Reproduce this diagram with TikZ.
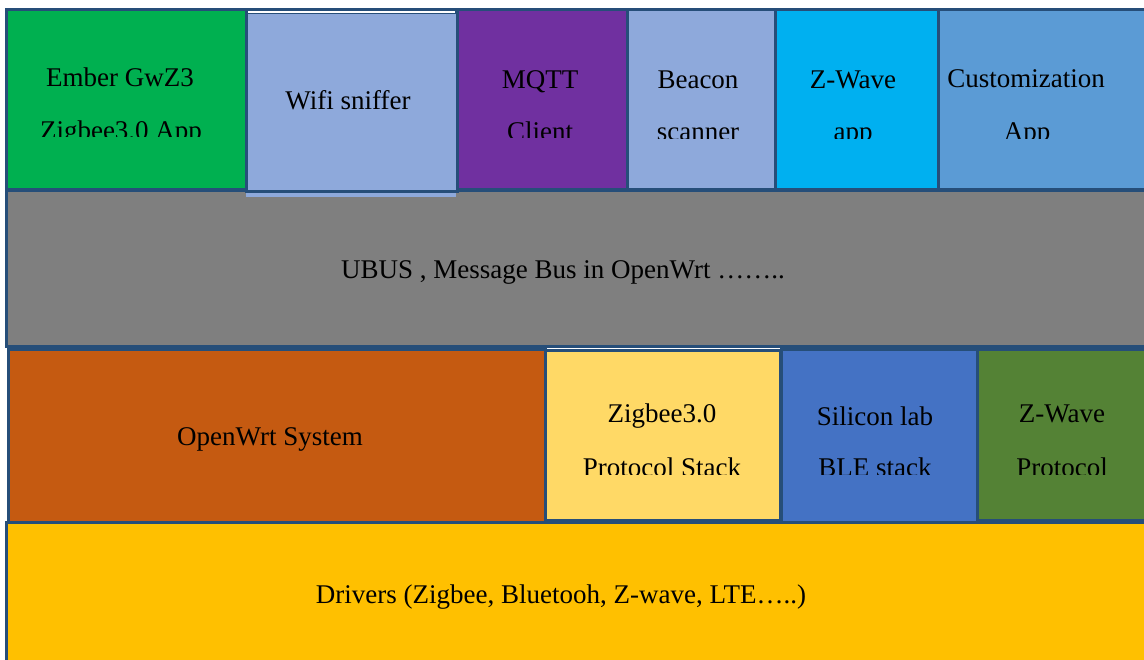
\documentclass[tikz,border=0pt]{standalone}
\usepackage{fontspec}
\setmainfont{Liberation Serif}
\definecolor{bd}{RGB}{38,78,121}
\definecolor{cgreen}{RGB}{0,176,80}
\definecolor{clblue}{RGB}{142,169,219}
\definecolor{cpurple}{RGB}{112,48,160}
\definecolor{ccyan}{RGB}{0,176,240}
\definecolor{cmblue}{RGB}{91,155,213}
\definecolor{cgray}{RGB}{127,127,127}
\definecolor{corange}{RGB}{197,90,17}
\definecolor{cyellow}{RGB}{255,217,102}
\definecolor{cblue}{RGB}{68,114,196}
\definecolor{cdgreen}{RGB}{84,130,53}
\definecolor{cgold}{RGB}{255,192,0}
\begin{document}
\begin{tikzpicture}[x=1pt,y=-1pt,
  box/.style={draw=bd,line width=3pt,inner sep=0pt,outer sep=0pt,anchor=north west},
  lbl/.style={anchor=base,inner sep=0pt,font=\fontsize{27}{32}\selectfont,text=black}]
\useasboundingbox[fill=white] (0,0) rectangle (1144,660);
% full-width layers
\node[box,fill=cgray,minimum width=1144pt,minimum height=156pt] (ubus) at (6,191) {};
\node[box,fill=cgold,minimum width=1144pt,minimum height=143pt] (drivers) at (6,522) {};
% top row
\node[box,fill=cgreen,minimum width=240pt,minimum height=180pt] (ember) at (6,10) {};
\fill[clblue] (246,190) rectangle (456,197);
\node[box,fill=clblue,minimum width=211pt,minimum height=179pt] (wifi) at (246,13) {};
\node[box,fill=cpurple,minimum width=170pt,minimum height=180pt] (mqtt) at (457,10) {};
\node[box,fill=clblue,minimum width=148pt,minimum height=180pt] (beacon) at (627,10) {};
\node[box,fill=ccyan,minimum width=163pt,minimum height=180pt] (zwapp) at (775,10) {};
\node[box,fill=cmblue,minimum width=212pt,minimum height=180pt] (custom) at (938,10) {};
\draw[bd,line width=3pt] (ember.north west) -- (custom.north east);
\fill[white] (248,11.5) rectangle (455,13.5);
% middle row
\node[box,fill=corange,minimum width=537pt,minimum height=172pt] (openwrt) at (8,350) {};
\node[box,fill=cyellow,minimum width=235pt,minimum height=169pt] (zigbee) at (545,351) {};
\node[box,fill=cblue,minimum width=196pt,minimum height=172pt] (silicon) at (781,350) {};
\node[box,fill=cdgreen,minimum width=173pt,minimum height=170pt] (zwproto) at (977,350) {};
% labels
\node[lbl] (emberA) at (120,87) {Ember GwZ3};
\begin{scope}\clip (0,0) rectangle (1144,137);
\node[lbl] (emberB) at (121,140) {Zigbee3.0 App};
\end{scope}
\node[lbl] (wifiA) at (348,110) {Wifi sniffer};
\node[lbl] (mqttA) at (540,89) {MQTT};
\begin{scope}\clip (0,0) rectangle (1144,138);
\node[lbl] (mqttB) at (540,141) {Client};
\end{scope}
\node[lbl] (beaconA) at (698,89) {Beacon};
\node[lbl] (zwappA) at (853,89) {Z-Wave};
\node[lbl] (customA) at (1026,88) {Customization};
\begin{scope}\clip (0,0) rectangle (1144,139);
\node[lbl] (beaconB) at (698,141) {scanner};
\node[lbl] (zwappB) at (853,141) {app};
\node[lbl] (customB) at (1027,141) {App};
\end{scope}
\node[lbl] (ubusA) at (563,279) {UBUS , Message Bus in OpenWrt ……..};
\node[lbl] (openwrtA) at (270,446) {OpenWrt System};
\node[lbl] (zigbeeA) at (662,423) {Zigbee3.0};
\node[lbl] (siliconA) at (875,425) {Silicon lab};
\node[lbl] (zwprotoA) at (1062,423) {Z-Wave};
\begin{scope}\clip (0,0) rectangle (1144,474);
\node[lbl] (zigbeeB) at (662,476) {Protocol Stack};
\node[lbl] (siliconB) at (875,476) {BLE stack};
\node[lbl] (zwprotoB) at (1062,476) {Protocol};
\end{scope}
\node[lbl] (driversA) at (561,603) {Drivers (Zigbee, Bluetooh, Z-wave, LTE…..)};
\end{tikzpicture}
\end{document}
